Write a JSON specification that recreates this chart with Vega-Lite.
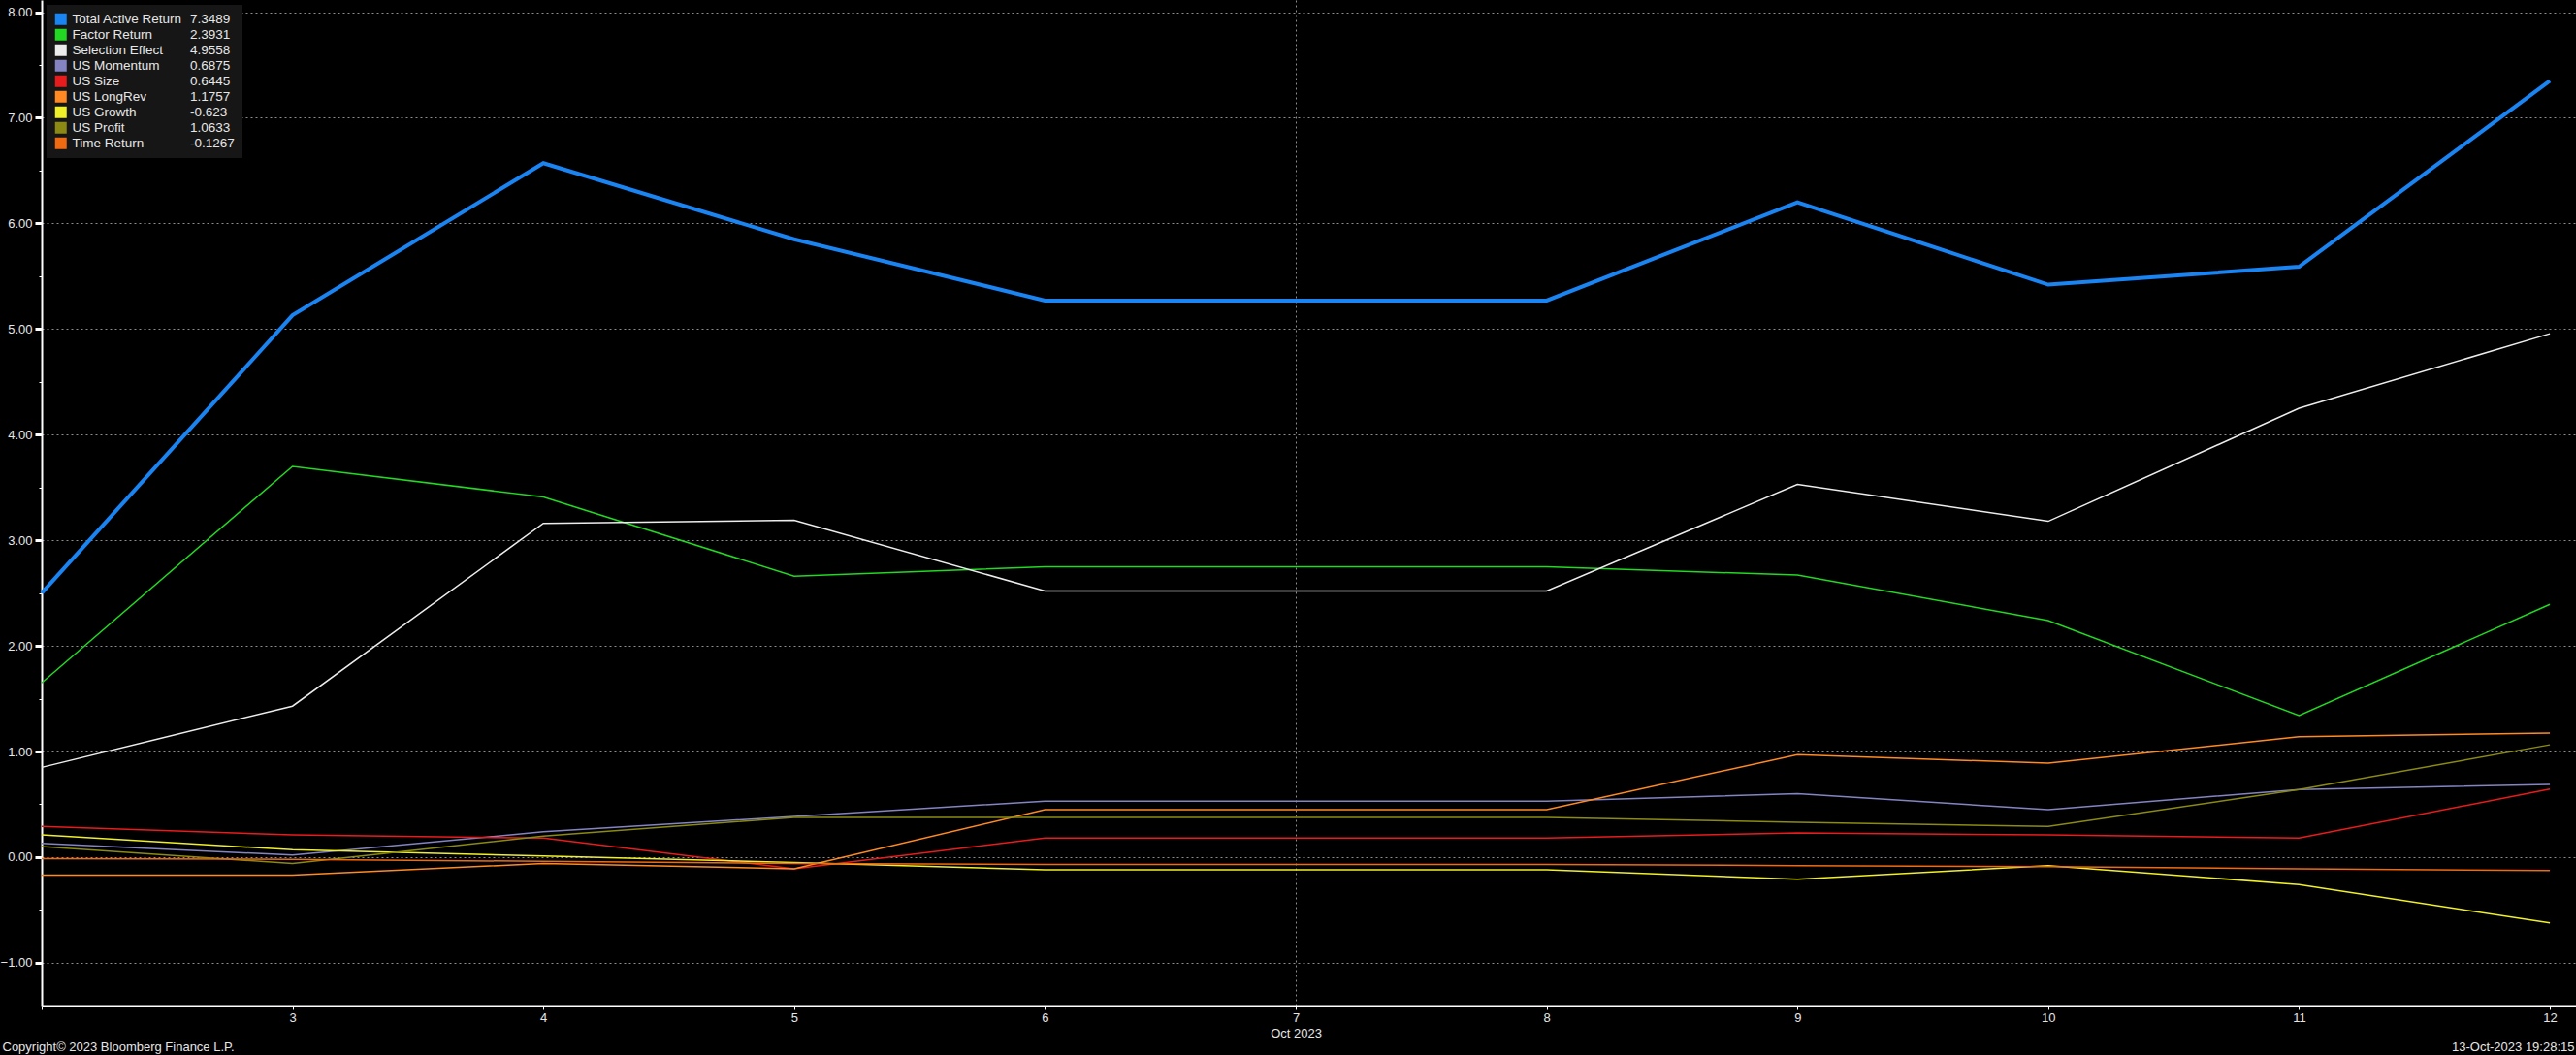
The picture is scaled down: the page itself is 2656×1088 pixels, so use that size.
{
  "$schema": "https://vega.github.io/schema/vega-lite/v6.json",
  "width": 2613,
  "height": 1037,
  "autosize": {"type": "none"},
  "padding": {"left": 43, "top": 0, "right": 0, "bottom": 51},
  "background": "#000000",
  "config": {"view": {"stroke": null}, "font": "Liberation Sans"},
  "datasets": {
    "wide": [
      {"date": "2023-10-02", "Total Active Return": 2.50, "Factor Return": 1.65, "Selection Effect": 0.85, "US Momentum": 0.13, "US Size": 0.29, "US LongRev": -0.17, "US Growth": 0.21, "US Profit": 0.10, "Time Return": -0.015},
      {"date": "2023-10-03", "Total Active Return": 5.13, "Factor Return": 3.70, "Selection Effect": 1.43, "US Momentum": 0.02, "US Size": 0.21, "US LongRev": -0.17, "US Growth": 0.07, "US Profit": -0.06, "Time Return": -0.02},
      {"date": "2023-10-04", "Total Active Return": 6.57, "Factor Return": 3.41, "Selection Effect": 3.16, "US Momentum": 0.24, "US Size": 0.18, "US LongRev": -0.06, "US Growth": 0.01, "US Profit": 0.20, "Time Return": -0.04},
      {"date": "2023-10-05", "Total Active Return": 5.85, "Factor Return": 2.66, "Selection Effect": 3.19, "US Momentum": 0.385, "US Size": -0.11, "US LongRev": -0.11, "US Growth": -0.05, "US Profit": 0.376, "Time Return": -0.06},
      {"date": "2023-10-06", "Total Active Return": 5.27, "Factor Return": 2.75, "Selection Effect": 2.52, "US Momentum": 0.53, "US Size": 0.18, "US LongRev": 0.45, "US Growth": -0.12, "US Profit": 0.376, "Time Return": -0.07},
      {"date": "2023-10-07", "Total Active Return": 5.27, "Factor Return": 2.75, "Selection Effect": 2.52, "US Momentum": 0.53, "US Size": 0.18, "US LongRev": 0.45, "US Growth": -0.12, "US Profit": 0.376, "Time Return": -0.07},
      {"date": "2023-10-08", "Total Active Return": 5.27, "Factor Return": 2.75, "Selection Effect": 2.52, "US Momentum": 0.53, "US Size": 0.18, "US LongRev": 0.45, "US Growth": -0.12, "US Profit": 0.376, "Time Return": -0.07},
      {"date": "2023-10-09", "Total Active Return": 6.20, "Factor Return": 2.67, "Selection Effect": 3.53, "US Momentum": 0.60, "US Size": 0.23, "US LongRev": 0.97, "US Growth": -0.21, "US Profit": 0.33, "Time Return": -0.08},
      {"date": "2023-10-10", "Total Active Return": 5.42, "Factor Return": 2.24, "Selection Effect": 3.18, "US Momentum": 0.45, "US Size": 0.21, "US LongRev": 0.89, "US Growth": -0.08, "US Profit": 0.29, "Time Return": -0.09},
      {"date": "2023-10-11", "Total Active Return": 5.59, "Factor Return": 1.34, "Selection Effect": 4.25, "US Momentum": 0.64, "US Size": 0.18, "US LongRev": 1.14, "US Growth": -0.26, "US Profit": 0.64, "Time Return": -0.11},
      {"date": "2023-10-12", "Total Active Return": 7.3489, "Factor Return": 2.3931, "Selection Effect": 4.9558, "US Momentum": 0.6875, "US Size": 0.6445, "US LongRev": 1.1757, "US Growth": -0.623, "US Profit": 1.0633, "Time Return": -0.1267}
    ],
    "last": [
      {"date": "2023-10-12", "value": 7.3489, "label": "7.3489"},
      {"date": "2023-10-12", "value": 2.3931, "label": "2.3931"},
      {"date": "2023-10-12", "value": 4.9558, "label": "4.9558"},
      {"date": "2023-10-12", "value": 0.6875, "label": "0.6875"},
      {"date": "2023-10-12", "value": 0.6445, "label": "0.6445"},
      {"date": "2023-10-12", "value": 1.1757, "label": "1.1757"},
      {"date": "2023-10-12", "value": -0.623, "label": "-0.623"},
      {"date": "2023-10-12", "value": 1.0633, "label": "1.0633"},
      {"date": "2023-10-12", "value": -0.1267, "label": "-0.1267"}
    ]
  },
  "encoding": {
    "x": {
      "field": "date",
      "type": "temporal",
      "scale": {
        "type": "utc",
        "domain": [
          {"year": 2023, "month": 10, "date": 2, "utc": true},
          {"year": 2023, "month": 10, "date": 12, "hours": 2, "minutes": 30, "utc": true}
        ]
      },
      "axis": {
        "values": [
          {"year": 2023, "month": 10, "date": 2, "utc": true},
          {"year": 2023, "month": 10, "date": 3, "utc": true},
          {"year": 2023, "month": 10, "date": 4, "utc": true},
          {"year": 2023, "month": 10, "date": 5, "utc": true},
          {"year": 2023, "month": 10, "date": 6, "utc": true},
          {"year": 2023, "month": 10, "date": 7, "utc": true},
          {"year": 2023, "month": 10, "date": 8, "utc": true},
          {"year": 2023, "month": 10, "date": 9, "utc": true},
          {"year": 2023, "month": 10, "date": 10, "utc": true},
          {"year": 2023, "month": 10, "date": 11, "utc": true},
          {"year": 2023, "month": 10, "date": 12, "utc": true}
        ],
        "labelExpr": "utcdate(datum.value) === 2 ? '' : (utcdate(datum.value) === 7 ? ['7', 'Oct 2023'] : '' + utcdate(datum.value))",
        "labelOverlap": false,
        "labelFlush": false,
        "labelColor": "#e6e6e6",
        "labelFont": "Liberation Sans",
        "labelFontSize": 13,
        "labelPadding": 2,
        "labelLineHeight": 16,
        "grid": true,
        "gridColor": "#8c8c8c",
        "gridDash": [2, 3],
        "gridOpacity": {"condition": {"test": "utcdate(datum.value) === 7", "value": 1}, "value": 0},
        "domainColor": "#ffffff",
        "domainWidth": 2,
        "tickColor": "#ffffff",
        "tickSize": 4,
        "tickWidth": 1,
        "title": "Copyright© 2023 Bloomberg Finance L.P.",
        "titleX": -41,
        "titleY": 46,
        "titleAlign": "left",
        "titleAnchor": "start",
        "titleBaseline": "alphabetic",
        "titleColor": "#e6e6e6",
        "titleFont": "Liberation Sans",
        "titleFontSize": 13,
        "titleFontWeight": "normal"
      }
    },
    "y": {
      "field": "value",
      "type": "quantitative",
      "scale": {"domain": [-1.405, 8.115], "nice": false, "zero": false},
      "axis": {
        "values": [-1, -0.5, 0, 0.5, 1, 1.5, 2, 2.5, 3, 3.5, 4, 4.5, 5, 5.5, 6, 6.5, 7, 7.5, 8],
        "labelExpr": "datum.value % 1 === 0 ? format(datum.value, '.2f') : ''",
        "labelColor": "#e6e6e6",
        "labelFont": "Liberation Sans",
        "labelFontSize": 13,
        "labelPadding": 3,
        "grid": true,
        "gridColor": "#8c8c8c",
        "gridDash": [2, 3],
        "gridOpacity": {"condition": {"test": "datum.value % 1 === 0", "value": 1}, "value": 0},
        "domainColor": "#ffffff",
        "domainWidth": 2,
        "tickColor": "#ffffff",
        "tickSize": {"condition": {"test": "datum.value % 1 === 0", "value": 7}, "value": 3},
        "tickWidth": {"condition": {"test": "datum.value % 1 === 0", "value": 3}, "value": 1},
        "title": "13-Oct-2023 19:28:15",
        "titleAngle": 0,
        "titleX": 2611,
        "titleY": 1083,
        "titleAlign": "right",
        "titleBaseline": "alphabetic",
        "titleColor": "#e6e6e6",
        "titleFont": "Liberation Sans",
        "titleFontSize": 13,
        "titleFontWeight": "normal"
      }
    }
  },
  "layer": [
    {
      "data": {"name": "wide"},
      "transform": [
        {"fold": ["Total Active Return", "Factor Return", "Selection Effect", "US Momentum", "US Size", "US LongRev", "US Growth", "US Profit", "Time Return"], "as": ["series", "value"]}
      ],
      "mark": {"type": "line", "interpolate": "linear"},
      "encoding": {
        "color": {
          "field": "series",
          "type": "nominal",
          "scale": {
            "domain": ["Total Active Return", "Factor Return", "Selection Effect", "US Momentum", "US Size", "US LongRev", "US Growth", "US Profit", "Time Return"],
            "range": ["#1a84f2", "#22d822", "#ececec", "#8484c2", "#e81c1c", "#ff8a24", "#f0f02a", "#8a8a14", "#f06a12"]
          },
          "legend": {
            "title": null,
            "orient": "none",
            "legendX": 5,
            "legendY": 5,
            "padding": 8,
            "symbolType": "square",
            "symbolSize": 144,
            "symbolStrokeWidth": 0,
            "labelFont": "Liberation Sans",
            "labelFontSize": 13.5,
            "labelColor": "#e6e6e6",
            "labelOffset": 5,
            "rowPadding": 1,
            "zindex": 2,
            "encode": {"symbols": {"update": {"fill": {"scale": "color", "field": "value"}, "fillOpacity": {"value": 1}, "strokeWidth": {"value": 0}}}}
          }
        },
        "strokeWidth": {"condition": {"test": "datum.series === 'Total Active Return'", "value": 4}, "value": 1.5}
      }
    },
    {
      "data": {"name": "last"},
      "mark": {"type": "point", "opacity": 0},
      "encoding": {
        "shape": {
          "field": "label",
          "type": "nominal",
          "scale": {"domain": ["7.3489", "2.3931", "4.9558", "0.6875", "0.6445", "1.1757", "-0.623", "1.0633", "-0.1267"]},
          "legend": {
            "title": null,
            "orient": "none",
            "legendX": 5,
            "legendY": 5,
            "padding": 8,
            "fillColor": "#161616",
            "symbolSize": 144,
            "symbolOpacity": 0,
            "labelFont": "Liberation Sans",
            "labelFontSize": 13.5,
            "labelColor": "#e6e6e6",
            "labelOffset": 126,
            "rowPadding": 2,
            "zindex": 1
          }
        }
      }
    }
  ]
}
